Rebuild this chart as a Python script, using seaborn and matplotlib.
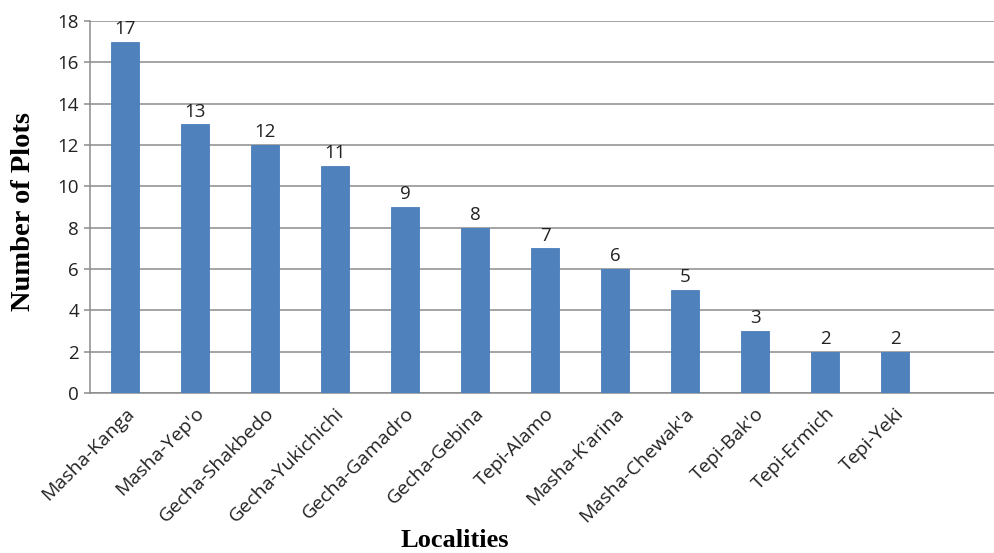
import matplotlib
matplotlib.use("Agg")
import matplotlib.pyplot as plt
import seaborn as sns
import pandas as pd
from matplotlib.ticker import FixedLocator, MultipleLocator

localities = ["Masha-Kanga", "Masha-Yep'o", "Gecha-Shakbedo", "Gecha-Yukichichi",
              "Gecha-Gamadro", "Gecha-Gebina", "Tepi-Alamo", "Masha-K'arina",
              "Masha-Chewak'a", "Tepi-Bak'o", "Tepi-Ermich", "Tepi-Yeki"]
plots = [17, 13, 12, 11, 9, 8, 7, 6, 5, 3, 2, 2]

sns.set_theme(style="white")
plt.rcParams['font.family'] = ['Open Sans', 'DejaVu Sans']

df = pd.DataFrame({"Localities": localities, "Plots": plots})

fig = plt.figure(figsize=(9.95, 5.53), dpi=100)
ax = fig.add_axes([0.0905, 0.289, 0.9146, 0.673])

sns.barplot(data=df, x="Localities", y="Plots", order=localities, color="#4F81BD",
            width=0.4, saturation=1, edgecolor="#4A7EBB", linewidth=0.6, ax=ax, zorder=3)

ax.set_xlim(-0.5, 12.5)
ax.set_ylim(0, 18)
ax.yaxis.set_major_locator(MultipleLocator(2))
ax.grid(axis="y", color="#8C8C8C", linewidth=1.1, zorder=0)
ax.set_axisbelow(True)

for sp in ["top", "right"]:
    ax.spines[sp].set_visible(False)
for sp in ["left", "bottom"]:
    ax.spines[sp].set_color("#8C8C8C")
    ax.spines[sp].set_linewidth(1.1)

# x ticks: labels at centers, tick marks at slot boundaries
ax.set_xticks(range(len(localities)))
ax.set_xticklabels(localities, rotation=45, ha="right", rotation_mode="anchor",
                   fontsize=14, color="#222222")
ax.tick_params(axis="x", which="major", length=0, pad=8)
ax.xaxis.set_minor_locator(FixedLocator([i - 0.5 for i in range(14)]))
ax.tick_params(axis="x", which="minor", length=5, width=1.1, color="#8C8C8C", direction="out")

ax.tick_params(axis="y", which="major", length=4, width=1.1, color="#8C8C8C",
               direction="out", labelsize=13.5, labelcolor="#222222", pad=4, left=True)

for i, v in enumerate(plots):
    ax.text(i, v + 0.18, str(v), ha="center", va="bottom", fontsize=13.5, color="#222222")

ax.set_xlabel("Localities", family="Liberation Serif", fontweight="bold", fontsize=19,
              color="black")
ax.xaxis.label.set_va("baseline")
ax.xaxis.set_label_coords(0.401, -0.413)
ax.set_ylabel("Number of Plots", family="Liberation Serif", fontweight="bold", fontsize=20.5,
              color="black")
ax.yaxis.set_label_coords(-0.059, 0.487)

fig.savefig("out.png", dpi=100)
